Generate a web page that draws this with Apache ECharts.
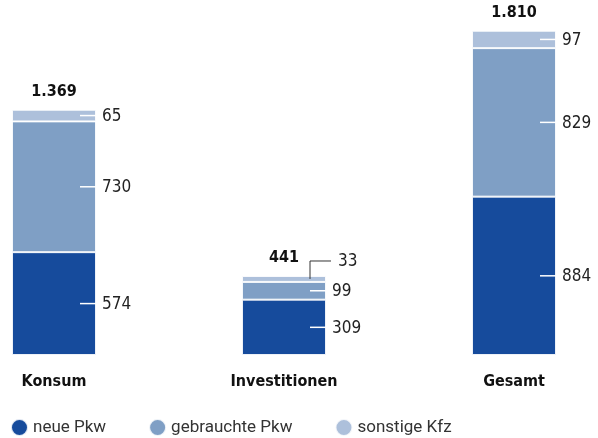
<!DOCTYPE html>
<html><head><meta charset="utf-8">
<script src="https://cdn.jsdelivr.net/npm/echarts@6/dist/echarts.min.js"></script>
<style>html,body{margin:0;padding:0;background:#fff}#c{width:598px;height:438px}</style>
</head><body><div id="c"></div>
<script>
const categories = ['Konsum', 'Investitionen', 'Gesamt'];
const neuePkw = [574, 309, 884];
const gebrauchtePkw = [730, 99, 829];
const sonstigeKfz = [65, 33, 97];
const totals = [1369, 441, 1810];
const seriesNames = ['neue Pkw', 'gebrauchte Pkw', 'sonstige Kfz'];
const colors = ['#164b9c', '#7f9fc5', '#adc0db'];

const condensed = '"DejaVu Sans Condensed", "Liberation Sans Narrow", "DejaVu Sans", sans-serif';
const BAR_W = 84;
function fmt(v){ return String(v).replace(/\B(?=(\d{3})+(?!\d))/g, '.'); }

const chart = echarts.init(document.getElementById('c'));
const stacks = [neuePkw, gebrauchtePkw, sonstigeKfz];

function renderAnno(params, api){
  const i = api.value(0);
  const children = [];
  let cum = 0;
  const base = api.coord([i, 0]);
  const right = base[0] + BAR_W/2;
  for (let s = 0; s < stacks.length; s++){
    const v = stacks[s][i];
    const y0 = api.coord([i, cum])[1];
    const y1 = api.coord([i, cum + v])[1];
    const mid = (y0 + y1)/2;
    cum += v;
    if (y0 - y1 < 8 && s === stacks.length - 1){
      const ly = y1 - 15;
      children.push({type:'polyline', shape:{points:[[right-16, mid],[right-16, ly],[right+5, ly]]}, style:{stroke:'#333', lineWidth:1, fill:null}});
      children.push({type:'text', style:{text:String(v), x:right+12, y:ly+1, font:'condensed 17px ' + condensed, fill:'#222', verticalAlign:'middle', align:'left'}});
    } else {
      children.push({type:'line', shape:{x1:right-16, y1:mid, x2:right, y2:mid}, style:{stroke:'#fff', lineWidth:1.5}});
      children.push({type:'text', style:{text:String(v), x:right+6, y:mid+1, font:'condensed 17px ' + condensed, fill:'#222', verticalAlign:'middle', align:'left'}});
    }
  }
  const top = api.coord([i, totals[i]])[1];
  children.push({type:'text', style:{text:fmt(totals[i]), x:base[0], y:top-18, font:'condensed bold 16px ' + condensed, fill:'#111', verticalAlign:'middle', align:'center'}});
  children.push({type:'text', style:{text:categories[i], x:base[0], y:base[1]+27, font:'condensed bold 16px ' + condensed, fill:'#111', verticalAlign:'middle', align:'center'}});
  return {type:'group', children};
}

chart.setOption({
  animation:false,
  color: colors,
  grid:{left:54, right:84, top:20, bottom:83},
  legend:{
    left:5, top:413, icon:'circle', itemWidth:17, itemHeight:17, itemGap:42,
    textStyle:{fontSize:17, color:'#333', fontFamily:'Roboto, "Liberation Sans", sans-serif'},
    data: seriesNames
  },
  xAxis:{type:'category', data:categories, boundaryGap:false,
    axisLine:{show:false}, axisTick:{show:false}, axisLabel:{show:false}},
  yAxis:{type:'value', min:0, max:1870, show:false, splitLine:{show:false}},
  series:[
    ...stacks.map((d, s) => ({
      name: seriesNames[s], type:'bar', stack:'a', data:d, barWidth:BAR_W, clip:false,
      itemStyle:{borderColor:'rgba(255,255,255,0.85)', borderWidth:1}
    })),
    {type:'custom', data: categories.map((c, i) => [i]), renderItem: renderAnno, clip:false, z:10, silent:true}
  ]
});
</script></body></html>
